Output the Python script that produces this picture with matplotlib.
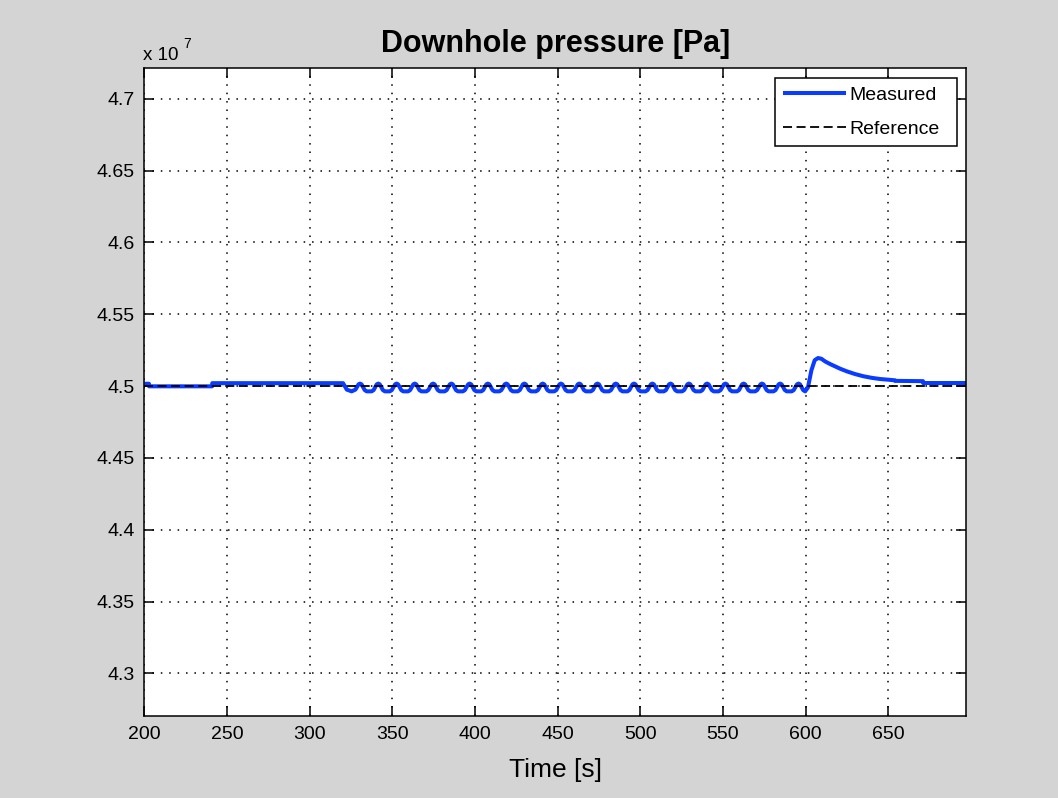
import matplotlib
matplotlib.use('Agg')
import matplotlib.pyplot as plt

plt.rcParams['font.family'] = ['Liberation Sans', 'DejaVu Sans']

# ---------------- data ----------------
title_text = "Downhole pressure [Pa]"
xlabel_text = "Time [s]"
x_ticks = [200, 250, 300, 350, 400, 450, 500, 550, 600, 650]
y_ticks = [4.3e7, 4.35e7, 4.4e7, 4.45e7, 4.5e7, 4.55e7, 4.6e7, 4.65e7, 4.7e7]
y_tick_labels = ["4.3", "4.35", "4.4", "4.45", "4.5", "4.55", "4.6", "4.65", "4.7"]
x_limits = [200, 697]
y_limits = [4.2703e7, 4.7214e7]

# reference (set point)
t_reference = [200, 697]
p_reference = [4.5e7, 4.5e7]

# measured downhole pressure
t_measured = [
    200.0, 202.8, 202.9, 241.0, 241.1, 320.2, 322.5, 325.4, 327.7,
    329.6, 330.5, 331.4, 333.3, 334.5, 337.5, 338.7,
    340.6, 341.5, 342.4, 344.3, 345.5, 348.5, 349.7,
    351.7, 352.6, 353.5, 355.4, 356.6, 359.6, 360.8,
    362.7, 363.6, 364.5, 366.4, 367.6, 370.6, 371.8,
    373.8, 374.7, 375.6, 377.5, 378.7, 381.7, 382.9,
    384.8, 385.7, 386.6, 388.5, 389.7, 392.7, 393.9,
    395.9, 396.8, 397.7, 399.6, 400.8, 403.8, 405.0,
    406.9, 407.8, 408.7, 410.6, 411.8, 414.8, 416.0,
    418.0, 418.9, 419.8, 421.7, 422.9, 425.9, 427.1,
    429.0, 429.9, 430.8, 432.7, 433.9, 436.9, 438.1,
    440.1, 441.0, 441.9, 443.8, 445.0, 448.0, 449.2,
    451.1, 452.0, 452.9, 454.8, 456.0, 459.0, 460.2,
    462.2, 463.1, 464.0, 465.9, 467.1, 470.1, 471.3,
    473.2, 474.1, 475.0, 476.9, 478.1, 481.1, 482.3,
    484.3, 485.2, 486.1, 488.0, 489.2, 492.2, 493.4,
    495.3, 496.2, 497.1, 499.0, 500.2, 503.2, 504.4,
    506.4, 507.3, 508.2, 510.1, 511.3, 514.3, 515.5,
    517.4, 518.3, 519.2, 521.1, 522.3, 525.3, 526.5,
    528.5, 529.4, 530.3, 532.2, 533.4, 536.4, 537.6,
    539.5, 540.4, 541.3, 543.2, 544.4, 547.4, 548.6,
    550.6, 551.5, 552.4, 554.3, 555.5, 558.5, 559.7,
    561.6, 562.5, 563.4, 565.3, 566.5, 569.5, 570.7,
    572.7, 573.6, 574.5, 576.4, 577.6, 580.6, 581.8,
    583.7, 584.6, 585.5, 587.4, 588.6, 591.6, 592.8,
    594.8, 595.7, 596.6, 598.5, 599.7,
    601.4, 603.5, 605.5, 607.5, 609.5, 612.0, 615.0, 618.0, 621.0,
    625.0, 630.0, 635.0, 640.0, 645.0, 650.0, 654.0, 654.1, 671.0,
    671.1, 697.0,
]
p_measured = [
    4.5016e7, 4.5016e7, 4.4998e7, 4.4998e7, 4.5020e7, 4.5020e7, 4.4975e7, 4.4963e7, 4.4975e7,
    4.5012e7, 4.5017e7, 4.5012e7, 4.4972e7, 4.4963e7, 4.4963e7, 4.4972e7,
    4.5012e7, 4.5017e7, 4.5012e7, 4.4972e7, 4.4963e7, 4.4963e7, 4.4972e7,
    4.5012e7, 4.5017e7, 4.5012e7, 4.4972e7, 4.4963e7, 4.4963e7, 4.4972e7,
    4.5012e7, 4.5017e7, 4.5012e7, 4.4972e7, 4.4963e7, 4.4963e7, 4.4972e7,
    4.5012e7, 4.5017e7, 4.5012e7, 4.4972e7, 4.4963e7, 4.4963e7, 4.4972e7,
    4.5012e7, 4.5017e7, 4.5012e7, 4.4972e7, 4.4963e7, 4.4963e7, 4.4972e7,
    4.5012e7, 4.5017e7, 4.5012e7, 4.4972e7, 4.4963e7, 4.4963e7, 4.4972e7,
    4.5012e7, 4.5017e7, 4.5012e7, 4.4972e7, 4.4963e7, 4.4963e7, 4.4972e7,
    4.5012e7, 4.5017e7, 4.5012e7, 4.4972e7, 4.4963e7, 4.4963e7, 4.4972e7,
    4.5012e7, 4.5017e7, 4.5012e7, 4.4972e7, 4.4963e7, 4.4963e7, 4.4972e7,
    4.5012e7, 4.5017e7, 4.5012e7, 4.4972e7, 4.4963e7, 4.4963e7, 4.4972e7,
    4.5012e7, 4.5017e7, 4.5012e7, 4.4972e7, 4.4963e7, 4.4963e7, 4.4972e7,
    4.5012e7, 4.5017e7, 4.5012e7, 4.4972e7, 4.4963e7, 4.4963e7, 4.4972e7,
    4.5012e7, 4.5017e7, 4.5012e7, 4.4972e7, 4.4963e7, 4.4963e7, 4.4972e7,
    4.5012e7, 4.5017e7, 4.5012e7, 4.4972e7, 4.4963e7, 4.4963e7, 4.4972e7,
    4.5012e7, 4.5017e7, 4.5012e7, 4.4972e7, 4.4963e7, 4.4963e7, 4.4972e7,
    4.5012e7, 4.5017e7, 4.5012e7, 4.4972e7, 4.4963e7, 4.4963e7, 4.4972e7,
    4.5012e7, 4.5017e7, 4.5012e7, 4.4972e7, 4.4963e7, 4.4963e7, 4.4972e7,
    4.5012e7, 4.5017e7, 4.5012e7, 4.4972e7, 4.4963e7, 4.4963e7, 4.4972e7,
    4.5012e7, 4.5017e7, 4.5012e7, 4.4972e7, 4.4963e7, 4.4963e7, 4.4972e7,
    4.5012e7, 4.5017e7, 4.5012e7, 4.4972e7, 4.4963e7, 4.4963e7, 4.4972e7,
    4.5012e7, 4.5017e7, 4.5012e7, 4.4972e7, 4.4963e7, 4.4963e7, 4.4972e7,
    4.5012e7, 4.5017e7, 4.5012e7, 4.4972e7, 4.4963e7, 4.4963e7, 4.4972e7,
    4.5012e7, 4.5017e7, 4.5012e7, 4.4972e7, 4.4963e7, 4.4963e7, 4.4972e7,
    4.5012e7, 4.5017e7, 4.5012e7, 4.4972e7, 4.4963e7,
    4.4990e7, 4.5110e7, 4.5180e7, 4.5195e7, 4.5190e7, 4.5170e7, 4.5152e7, 4.5136e7, 4.5120e7,
    4.5102e7, 4.5083e7, 4.5068e7, 4.5057e7, 4.5049e7, 4.5044e7, 4.5040e7, 4.5036e7, 4.5034e7,
    4.5021e7, 4.5021e7,
]

# ---------------- figure ----------------
W, H = 1058, 798
fig = plt.figure(figsize=(W / 100, H / 100), dpi=100, facecolor='#d4d4d4')
ax_l, ax_r, ax_t, ax_b = 144.3, 966.0, 68.0, 716.0
ax = fig.add_axes([ax_l / W, 1 - ax_b / H, (ax_r - ax_l) / W, (ax_b - ax_t) / H])
ax.set_facecolor('white')

blue = '#0a3cff'
ax.plot(t_measured, p_measured, color=blue, linewidth=2.9, solid_joinstyle='round',
        solid_capstyle='butt', label='Measured')
ax.plot(t_reference, p_reference, color='black', linewidth=1.3, dashes=(5, 2.5), label='Reference')

ax.set_xlim(x_limits)
ax.set_ylim(y_limits)
ax.set_xticks(x_ticks)
ax.set_xticklabels([str(v) for v in x_ticks])
ax.set_yticks(y_ticks)
ax.set_yticklabels(y_tick_labels)

ax.grid(True, color='black', linestyle=(0, (1, 4.5)), linewidth=1.1)
ax.tick_params(direction='in', length=7, width=1.1, top=True, right=True,
               labelsize=14, pad=7, colors='black')
for s in ax.spines.values():
    s.set_linewidth(1.1)
    s.set_color('black')

# legend
leg = ax.legend(loc='upper left', bbox_to_anchor=(0.7676, 0.0, 0.2211, 0.9841),
                mode='expand', borderaxespad=0.0, fontsize=14, frameon=True,
                fancybox=False, edgecolor='black', framealpha=1.0,
                handlelength=3.25, handletextpad=0.15, borderpad=0.4,
                labelspacing=0.85)
leg.get_frame().set_linewidth(1.1)

cx = (ax_l + ax_r) / 2 / W
fig.text(cx, 1 - 51.7 / H, title_text, ha='center', va='baseline',
         fontsize=22, fontweight='bold')
fig.text(cx, 1 - 776.7 / H, xlabel_text, ha='center', va='baseline', fontsize=19)
fig.text(143.3 / W, 1 - 60.0 / H, "x 10", ha='left', va='baseline', fontsize=13.5)
fig.text(183.5 / W, 1 - 48.0 / H, "7", ha='left', va='baseline', fontsize=10)

fig.savefig('out.png', dpi=100, facecolor=fig.get_facecolor())
